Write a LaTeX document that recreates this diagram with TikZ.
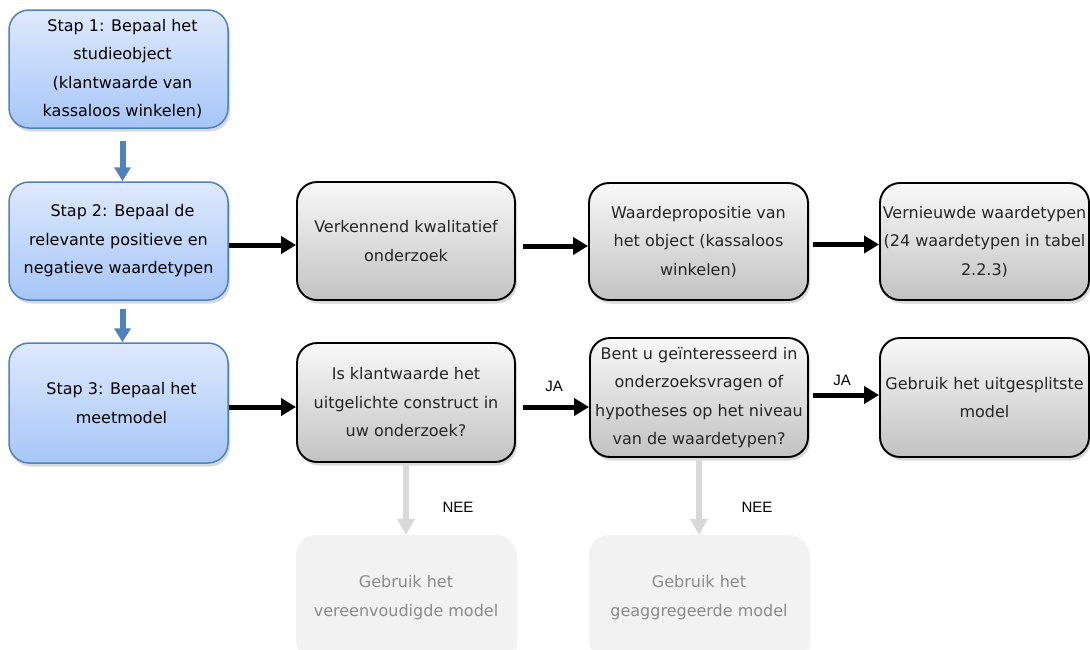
\documentclass[tikz,border=0pt]{standalone}
\usepackage{fontspec}
\setmainfont{DejaVu Sans}
\newfontfamily\labfont{Liberation Sans}
\usetikzlibrary{arrows.meta,shadows}
\definecolor{bluetop}{RGB}{222,233,252}
\definecolor{bluebot}{RGB}{166,198,247}
\definecolor{blueline}{RGB}{79,129,189}
\definecolor{bluearrow}{RGB}{79,129,189}
\definecolor{graytop}{RGB}{248,248,248}
\definecolor{graybot}{RGB}{194,194,194}
\definecolor{lightfill}{RGB}{242,242,242}
\definecolor{lighttext}{RGB}{138,138,138}
\definecolor{lightarrow}{RGB}{217,217,217}
\tikzset{
  boxtext/.style={align=center, font=\fontsize{16}{28.5}\selectfont, inner sep=0pt},
  bluebox/.style={boxtext, rounded corners=20pt, draw=blueline, line width=1.5pt,
    top color=bluetop, bottom color=bluebot,
    drop shadow={opacity=0.3, shadow xshift=2pt, shadow yshift=-3.5pt}},
  graybox/.style={boxtext, rounded corners=20pt, draw=black, line width=1.9pt,
    top color=graytop, bottom color=graybot, text=black!85,
    drop shadow={opacity=0.3, shadow xshift=2pt, shadow yshift=-3.5pt}},
  lightbox/.style={boxtext, rounded corners=20pt, fill=lightfill, text=lighttext,
    drop shadow={opacity=0.08, shadow xshift=1.5pt, shadow yshift=-3pt}},
  bluearr/.style={draw=bluearrow, line width=6pt, -{Triangle[width=16pt,length=14pt]}},
  blkarr/.style={draw=black, line width=5pt, -{Triangle[width=17pt,length=15pt]}},
  grayarr/.style={draw=lightarrow, line width=6.5pt, -{Triangle[width=17pt,length=16pt]}},
  lab/.style={font=\labfont\fontsize{15}{18}\selectfont, inner sep=0pt}
}
\begin{document}
\begin{tikzpicture}[x=1pt,y=-1pt]
\useasboundingbox (0,0) rectangle (1090,649);
% blue step boxes
\node[bluebox, minimum width=219pt, minimum height=118pt] (s1) at (118.5,69)
  {\hspace*{8pt}Stap 1: Bepaal het\\\hspace*{8pt}studieobject\\\hspace*{8pt}(klantwaarde van\\\hspace*{8pt}kassaloos winkelen)};
\node[bluebox, minimum width=219pt, minimum height=118pt] (s2) at (118.5,241)
  {\hspace*{8pt}Stap 2: Bepaal de\\relevante positieve en\\negatieve waardetypen};
\node[bluebox, minimum width=219pt, minimum height=120pt] (s3) at (118.5,403)
  {\hspace*{6pt}Stap 3: Bepaal het\\\hspace*{6pt}meetmodel};
% gray boxes row 2
\node[graybox, minimum width=218pt, minimum height=118pt] (A) at (406,241)
  {Verkennend kwalitatief\\onderzoek};
\node[graybox, minimum width=219pt, minimum height=117pt] (B) at (698.5,241.5)
  {Waardepropositie van\\het object (kassaloos\\winkelen)};
\node[graybox, minimum width=209pt, minimum height=117pt] (C) at (984.5,241.5)
  {Vernieuwde waardetypen\\(24 waardetypen in tabel\\2.2.3)};
% gray boxes row 3
\node[graybox, minimum width=218pt, minimum height=119pt] (D) at (406,402.5)
  {Is klantwaarde het\\uitgelichte construct in\\uw onderzoek?};
\node[graybox, minimum width=218pt, minimum height=119pt] (E) at (699,397.5)
  {Bent u geïnteresseerd in\\onderzoeksvragen of\\hypotheses op het niveau\\van de waardetypen?};
\node[graybox, minimum width=209pt, minimum height=119pt] (F) at (984.5,397.5)
  {Gebruik het uitgesplitste\\model};
% light boxes
\node[lightbox, minimum width=220pt, minimum height=125pt] (L1) at (406,597.5)
  {Gebruik het\\vereenvoudigde model};
\node[lightbox, minimum width=220pt, minimum height=125pt] (L2) at (699,597.5)
  {Gebruik het\\geaggregeerde model};
% blue arrows
\draw[bluearr, shorten <=12pt] ([xshift=4pt]s1.south) -- ([xshift=4pt]s2.north);
\draw[bluearr, shorten <=8pt] ([xshift=4pt]s2.south) -- ([xshift=4pt]s3.north);
% black arrows row 2
\draw[blkarr] ([yshift=-4pt]s2.east) -- ([yshift=-4pt]s2.east -| A.west);
\draw[blkarr, shorten <=7pt] ([yshift=-5pt]A.east) -- ([yshift=-5pt]A.east -| B.west);
\draw[blkarr, shorten <=4pt] ([yshift=-3pt]B.east) -- ([yshift=-3pt]B.east -| C.west);
% black arrows row 3
\draw[blkarr] ([yshift=-4pt]s3.east) -- ([yshift=-4pt]s3.east -| D.west);
\draw[blkarr, shorten <=7pt] ([yshift=-4.5pt]D.east) -- ([yshift=-4.5pt]D.east -| E.west);
\draw[blkarr, shorten <=4pt] ([yshift=2.5pt]E.east) -- ([yshift=2.5pt]E.east -| F.west);
% gray arrows
\draw[grayarr] (D.south) -- (L1.north);
\draw[grayarr] (E.south) -- (L2.north);
% labels
\node[lab] (ja1) at (554,386) {JA};
\node[lab] (ja2) at (842,380) {JA};
\node[lab] (nee1) at (458,507) {NEE};
\node[lab] (nee2) at (757,507) {NEE};
\end{tikzpicture}
\end{document}
